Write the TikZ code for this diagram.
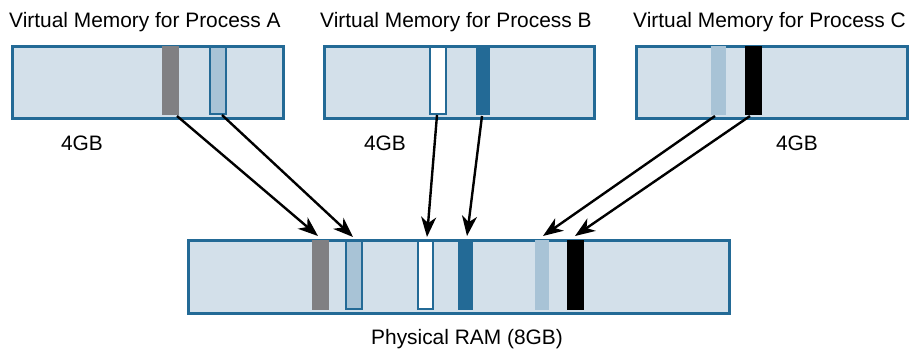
\documentclass[tikz,border=0pt]{standalone}
\usepackage{fontspec}
\setmainfont{Liberation Sans}
\usetikzlibrary{arrows.meta}
\definecolor{boxc}{HTML}{D3E0EA}
\definecolor{bordc}{HTML}{236A96}
\definecolor{grayc}{HTML}{808083}
\definecolor{lbluec}{HTML}{A8C3D6}
\tikzset{
  vbox/.style={draw=bordc, line width=3pt, fill=boxc, inner sep=0pt, anchor=north west},
  stripe/.style={inner sep=0pt, outer sep=0pt, anchor=north west, minimum height=#1},
  stripe/.default=69pt,
  lbl/.style={font=\fontsize{20.9pt}{24pt}\selectfont, inner sep=0pt},
  conn/.style={line width=2.4pt, -{Stealth[length=20pt,width=15pt,inset=6pt]}, shorten >=0pt}
}
\begin{document}
\begin{tikzpicture}[x=1pt,y=-1pt]
\useasboundingbox (0,0) rectangle (912,349);
% titles
\node[lbl, anchor=base west] (tA) at (9,27) {Virtual Memory for Process A};
\node[lbl, anchor=base west] (tB) at (320,27) {Virtual Memory for Process B};
\node[lbl, anchor=base west] (tC) at (633,27) {Virtual Memory for Process C};
% virtual boxes
\node[vbox, minimum width=271pt, minimum height=72pt] (A) at (10.5,44.5) {};
\node[vbox, minimum width=270pt, minimum height=72pt] (B) at (322.5,44.5) {};
\node[vbox, minimum width=271pt, minimum height=72pt] (C) at (634.5,44.5) {};
\node[vbox, minimum width=541pt, minimum height=73pt] (R) at (186.5,238.5) {};
% stripes A
\node[stripe, fill=grayc, minimum width=17pt] (a1) at (162,46) {};
\node[stripe=67pt, fill=lbluec, draw=bordc, line width=2pt, minimum width=16pt] (a2) at (210,47) {};
% stripes B
\node[stripe=67pt, fill=white, draw=bordc, line width=2pt, minimum width=16pt] (b1) at (430,47) {};
\node[stripe, fill=bordc, minimum width=14pt] (b2) at (476,46) {};
% stripes C
\node[stripe, fill=lbluec, minimum width=15pt] (c1) at (711,46) {};
\node[stripe, fill=black, minimum width=17pt] (c2) at (745,46) {};
% stripes RAM
\node[stripe=70pt, fill=grayc, minimum width=17pt] (r1) at (312,240) {};
\node[stripe=68pt, fill=lbluec, draw=bordc, line width=2pt, minimum width=16pt] (r2) at (346,241) {};
\node[stripe=68pt, fill=white, draw=bordc, line width=2pt, minimum width=15pt] (r3) at (418,241) {};
\node[stripe=70pt, fill=bordc, minimum width=15pt] (r4) at (458,240) {};
\node[stripe=70pt, fill=lbluec, minimum width=14pt] (r5) at (535,240) {};
\node[stripe=70pt, fill=black, minimum width=17pt] (r6) at (567,240) {};
% size labels
\node[lbl, anchor=base] (sA) at (82,150) {4GB};
\node[lbl, anchor=base] (sB) at (385,150) {4GB};
\node[lbl, anchor=base] (sC) at (797,150) {4GB};
\node[lbl, anchor=base] (sR) at (467,344) {Physical RAM (8GB)};
% connectors
\draw[conn] ([xshift=6.5pt,yshift=-1pt]a1.south) -- ([xshift=-2.5pt,yshift=4pt]r1.north);
\draw[conn] ([xshift=4pt,yshift=-1pt]a2.south) -- ([xshift=-1pt,yshift=4pt]r2.north);
\draw[conn] ([xshift=-1pt,yshift=-1pt]b1.south) -- ([xshift=1.5pt,yshift=4pt]r3.north);
\draw[conn] ([xshift=-1pt,yshift=-1pt]b2.south) -- ([xshift=1.5pt,yshift=4pt]r4.north);
\draw[conn] ([xshift=-3.5pt,yshift=-1pt]c1.south) -- ([xshift=1pt,yshift=4pt]r5.north);
\draw[conn] ([xshift=-3.5pt,yshift=-1pt]c2.south) -- ([xshift=-0.5pt,yshift=4pt]r6.north);
\end{tikzpicture}
\end{document}
